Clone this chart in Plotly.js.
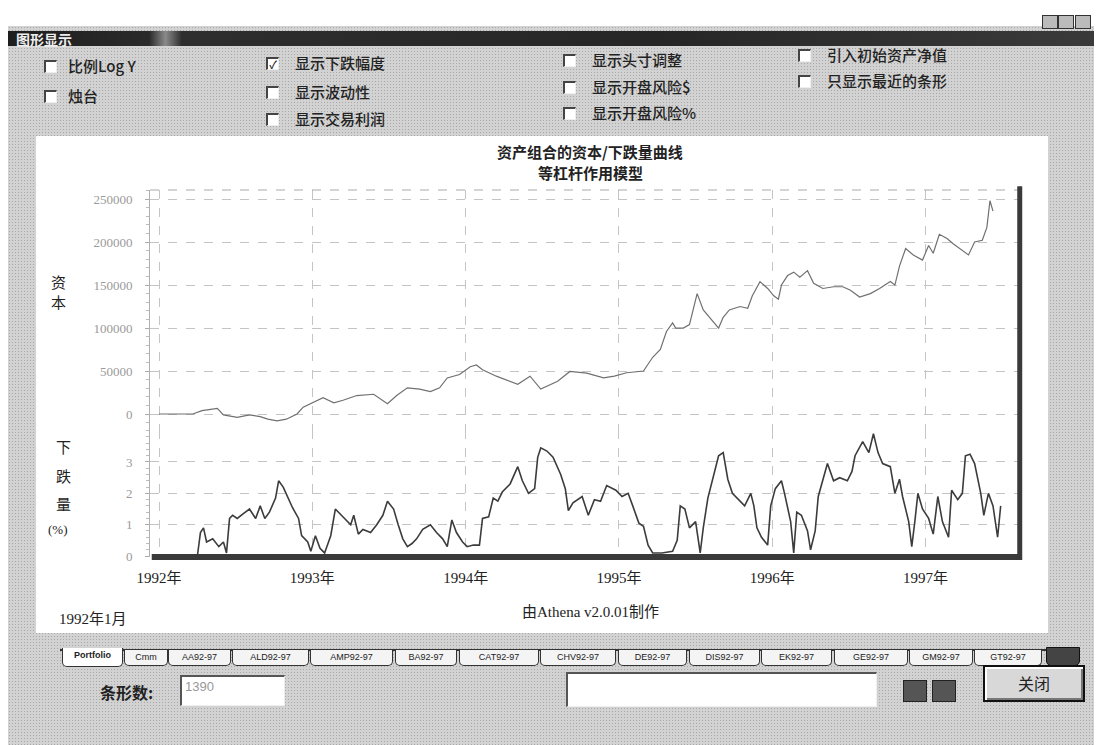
<!DOCTYPE html>
<html><head><meta charset="utf-8">
<script src="https://cdn.plot.ly/plotly-3.0.1.min.js"></script>
<style>
body{margin:0;width:1098px;height:745px;position:relative;background:#fff;overflow:hidden;font-family:"Liberation Serif","Noto Sans CJK SC",serif;color:#222;}
#win{position:absolute;left:8px;top:26px;width:1086px;height:719px;background-color:#d2d2d2;background-image:radial-gradient(#a8a8a8 0.6px,transparent 0.9px);background-size:3px 3px;}
#titlebar{position:absolute;left:8px;top:31px;width:1086px;height:15px;background:linear-gradient(90deg,#1e1e1e 0%,#2a2a2a 13%,#8a8a8a 14.5%,#2e2e2e 16%,#262626 60%,#3a3a3a 100%);}
#titlebar span{position:absolute;left:8px;top:-2px;color:#eee;font:bold 14px "Noto Sans CJK SC",sans-serif;}
.wbtn{position:absolute;top:15px;width:14px;height:12px;background:#bbb;border:1px solid #333;}
.cb{position:absolute;font:500 15px "Noto Sans CJK SC",sans-serif;color:#222;white-space:nowrap;line-height:18px;}
.cb i{position:absolute;left:0;top:3px;width:10px;height:10px;background:#fff;border-top:2px solid #444;border-left:2px solid #444;border-bottom:1px solid #eee;border-right:1px solid #eee;font-style:normal;font-size:11px;line-height:10px;text-align:center;color:#111;}
.cb b{position:absolute;top:0;font-weight:500;}
#panel{position:absolute;left:36px;top:136px;width:1012px;height:497px;background:#fff;}
#plot{position:absolute;left:36px;top:136px;width:1012px;height:497px;}
#tabs{position:absolute;left:60px;top:649px;width:990px;height:18px;border-top:2px solid #333;}
.tab{position:absolute;top:650px;height:15px;background:#f4f4f4;border:1px solid #333;border-top:none;border-radius:0 0 5px 5px;font:9px "Liberation Sans",sans-serif;text-align:center;line-height:15px;color:#222;overflow:hidden;white-space:nowrap;}
.sunk{position:absolute;background:#fff;border-top:2px solid #555;border-left:2px solid #555;border-bottom:1px solid #eee;border-right:1px solid #eee;}
.lbl{position:absolute;font:bold 16px "Noto Sans CJK SC",sans-serif;color:#222;}
.icon{position:absolute;top:680px;width:22px;height:20px;background:#555;border:1px solid #222;}
#close{position:absolute;left:983px;top:665px;width:98px;height:33px;background:#d8d8d8;border:2px solid #111;box-shadow:inset 2px 2px 0 #fff,inset -2px -2px 0 #777;font:16px "Noto Sans CJK SC",sans-serif;text-align:center;line-height:33px;}
</style></head>
<body>
<div id="win"></div>
<div id="titlebar"><span>图形显示</span></div>
<div class="wbtn" style="left:1042px"></div><div class="wbtn" style="left:1058px"></div><div class="wbtn" style="left:1075px"></div>
<div id="cbs"></div>
<div id="panel"></div>
<div id="plot"></div>
<div id="tabs"></div>
<div id="tabrow"></div>
<div class="lbl" style="left:100px;top:680px;">条形数:</div>
<div class="sunk" style="left:180px;top:675px;width:102px;height:28px;"><span style="position:absolute;left:3px;top:2px;font:13px 'Liberation Sans',sans-serif;color:#999;">1390</span></div>
<div class="sunk" style="left:566px;top:672px;width:308px;height:32px;"></div>
<div class="icon" style="left:903px;"></div><div class="icon" style="left:932px;"></div>
<div id="close">关闭</div>
<script>
// ---- chart data ----
const eqYear = [1992.00,1992.12,1992.22,1992.28,1992.35,1992.38,1992.42,1992.51,1992.59,1992.66,1992.71,1992.77,1992.83,1992.90,1992.94,1993.00,1993.07,1993.14,1993.20,1993.29,1993.40,1993.49,1993.55,1993.62,1993.70,1993.77,1993.83,1993.88,1993.96,1994.03,1994.07,1994.11,1994.20,1994.34,1994.42,1994.49,1994.60,1994.68,1994.79,1994.90,1994.97,1995.05,1995.16,1995.22,1995.27,1995.31,1995.35,1995.37,1995.42,1995.46,1995.51,1995.55,1995.59,1995.65,1995.68,1995.72,1995.79,1995.84,1995.87,1995.92,1995.97,1996.01,1996.04,1996.06,1996.10,1996.14,1996.18,1996.23,1996.27,1996.33,1996.40,1996.46,1996.51,1996.57,1996.64,1996.70,1996.77,1996.80,1996.83,1996.87,1996.92,1996.98,1997.02,1997.05,1997.09,1997.14,1997.18,1997.23,1997.28,1997.32,1997.37,1997.40,1997.41,1997.42,1997.44];
const equity = [0,0,0,4000,5500,6500,-1000,-4000,-1000,-3000,-6000,-8000,-6000,0,8000,13500,19000,13000,16000,21500,23000,12000,21500,30500,29000,26000,30500,42000,46000,55000,57000,51500,44000,34500,44000,29000,38000,49500,47500,42000,44000,48000,50000,66000,75000,96000,106000,100000,100000,104000,140000,121000,112500,100000,112500,121000,125000,123000,137500,154000,146000,137500,133500,150000,161000,165000,159000,166700,152000,146000,148000,148000,144000,136000,140000,146000,154000,150000,172000,192500,185000,179000,196000,187000,209000,204000,198000,191000,185000,200000,202000,217000,236000,248000,236000];
const ddYear = [1992.01,1992.25,1992.27,1992.29,1992.31,1992.35,1992.39,1992.42,1992.44,1992.46,1992.48,1992.51,1992.55,1992.59,1992.63,1992.66,1992.69,1992.72,1992.76,1992.78,1992.81,1992.84,1992.87,1992.91,1992.93,1992.97,1992.99,1993.02,1993.05,1993.08,1993.12,1993.15,1993.18,1993.21,1993.25,1993.27,1993.30,1993.33,1993.38,1993.42,1993.46,1993.49,1993.53,1993.56,1993.59,1993.62,1993.65,1993.68,1993.72,1993.77,1993.81,1993.85,1993.88,1993.91,1993.94,1993.98,1994.01,1994.05,1994.09,1994.11,1994.15,1994.18,1994.21,1994.24,1994.29,1994.34,1994.37,1994.41,1994.45,1994.47,1994.49,1994.53,1994.57,1994.62,1994.65,1994.67,1994.70,1994.76,1994.80,1994.84,1994.88,1994.92,1994.98,1995.02,1995.06,1995.09,1995.13,1995.16,1995.19,1995.22,1995.28,1995.35,1995.38,1995.40,1995.43,1995.46,1995.50,1995.53,1995.55,1995.58,1995.61,1995.65,1995.68,1995.71,1995.74,1995.78,1995.82,1995.86,1995.88,1995.90,1995.93,1995.97,1995.99,1996.02,1996.06,1996.08,1996.12,1996.14,1996.16,1996.19,1996.23,1996.25,1996.28,1996.30,1996.33,1996.36,1996.40,1996.44,1996.49,1996.52,1996.54,1996.59,1996.63,1996.66,1996.69,1996.72,1996.77,1996.80,1996.83,1996.85,1996.89,1996.91,1996.93,1996.95,1996.98,1997.02,1997.05,1997.08,1997.11,1997.15,1997.17,1997.21,1997.24,1997.26,1997.29,1997.32,1997.36,1997.38,1997.41,1997.44,1997.47,1997.49];
const drawdown = [0,0,0.75,0.9,0.45,0.55,0.3,0.45,0.1,1.2,1.3,1.2,1.35,1.5,1.2,1.6,1.2,1.4,1.85,2.4,2.2,1.85,1.55,1.2,0.65,0.45,0.15,0.65,0.25,0.1,0.65,1.5,1.35,1.2,1.0,1.3,0.7,0.85,0.75,1.0,1.3,1.75,1.5,1.0,0.55,0.3,0.4,0.55,0.85,1.0,0.75,0.55,0.3,1.15,0.75,0.45,0.3,0.35,0.35,1.2,1.25,1.85,1.75,2.05,2.3,2.85,2.4,2.0,2.15,3.15,3.45,3.35,3.15,2.6,2.15,1.45,1.7,1.9,1.3,1.8,1.75,2.25,2.1,1.9,2.0,1.6,1.05,0.95,0.35,0.1,0.1,0.15,0.5,1.6,1.5,0.9,1.1,0.1,0.9,1.85,2.45,3.2,3.3,2.45,2.0,1.8,1.6,2.0,1.6,0.9,0.6,0.35,1.6,2.15,2.4,2.0,1.1,0.1,1.4,1.3,0.8,0.2,0.8,1.9,2.4,2.95,2.4,2.5,2.4,2.7,3.2,3.65,3.3,3.9,3.3,2.95,2.85,2.0,2.45,1.9,1.1,0.3,1.1,2.0,1.5,1.2,0.7,1.9,1.1,0.6,2.1,1.8,2.0,3.2,3.25,2.95,2.0,1.3,2.0,1.6,0.6,1.6];
const yearTicks = [1992,1993,1994,1995,1996,1997];
const yearLabels = ['1992年','1993年','1994年','1995年','1996年','1997年'];
const capTicks = [0,50000,100000,150000,200000,250000];
const ddTicks = [0,1,2,3];

// ---- window controls ----
const checks = [
  [44,66,'比例Log Y',false],[44,96,'烛台',false],
  [266,63,'显示下跌幅度',true],[266,92,'显示波动性',false],[266,119,'显示交易利润',false],
  [563,60,'显示头寸调整',false],[563,87,'显示开盘风险$',false],[563,113,'显示开盘风险%',false],
  [798,55,'引入初始资产净值',false],[798,81,'只显示最近的条形',false]
];
const cbs = document.getElementById('cbs');
checks.forEach(c=>{
  const d=document.createElement('div');d.className='cb';
  d.style.left=c[0]+'px';d.style.top=(c[1]-9)+'px';
  d.innerHTML='<i>'+(c[3]?'✓':'')+'</i><b style="left:'+(c[0]<100?24:29)+'px">'+c[2]+'</b>';
  cbs.appendChild(d);
});
const tabs = [['Portfolio',62,121],['Cmm',124,166],['AA92-97',168,229],['ALD92-97',232,307],['AMP92-97',310,391],['BA92-97',395,455],['CAT92-97',459,537],['CHV92-97',540,614],['DE92-97',618,685],['DIS92-97',689,758],['EK92-97',761,830],['GE92-97',834,906],['GM92-97',909,971],['GT92-97',974,1040]];
const tr=document.getElementById('tabrow');
tabs.forEach((t,i)=>{
  const d=document.createElement('div');d.className='tab';
  d.style.left=t[1]+'px';d.style.width=(t[2]-t[1])+'px';d.textContent=t[0];
  if(i===0){d.style.background='#fff';d.style.top='648px';d.style.height='18px';d.style.fontWeight='bold';}
  tr.appendChild(d);
});
const sb=document.createElement('div');sb.className='tab';sb.style.left='1046px';sb.style.width='32px';sb.style.background='#444';sb.style.top='647px';sb.style.height='17px';sb.style.border='1px solid #111';tr.appendChild(sb);

// ---- chart ----
const gridC='#c4c4c4', tickFont={family:'Liberation Serif, Noto Sans CJK SC, serif',size:13,color:'#9a9a9a'};
const traces=[
  {x:eqYear,y:equity,type:'scatter',mode:'lines',line:{color:'#707070',width:1.2},xaxis:'x',yaxis:'y',hoverinfo:'skip'},
  {x:ddYear,y:drawdown,type:'scatter',mode:'lines',line:{color:'#3c3c3c',width:1.6},xaxis:'x',yaxis:'y2',hoverinfo:'skip'}
];
const cjk='Noto Sans CJK SC, sans-serif';
function ann(text,x,y,size,extra){return Object.assign({text:text,x:x,y:y,xref:'paper',yref:'paper',xanchor:'center',yanchor:'middle',showarrow:false,font:{family:cjk,size:size,color:'#222'}},extra||{});}
const layout={
  width:1012,height:497,margin:{l:114,r:30,t:54,b:76},
  paper_bgcolor:'#ffffff',plot_bgcolor:'#ffffff',showlegend:false,
  xaxis:{range:[1991.941,1997.603],anchor:'y2',tickvals:yearTicks,ticktext:yearLabels,showgrid:true,gridcolor:gridC,griddash:'dash',zeroline:false,showline:false,ticks:'',ticklabelstandoff:10,tickfont:{family:'Liberation Serif, Noto Sans CJK SC, serif',size:15,color:'#222'}},
  yaxis:{domain:[0.346,1],range:[-18600,260500],tickvals:capTicks,ticktext:capTicks.map(String),showgrid:true,gridcolor:gridC,griddash:'dash',zeroline:false,showline:true,linecolor:'#b0b0b0',linewidth:1,ticks:'outside',ticklen:4,tickcolor:'#aaa',minor:{dtick:10000,ticklen:3,tickcolor:'#bbb',ticks:'outside',showgrid:false},ticklabelstandoff:10,tickfont:tickFont},
  yaxis2:{domain:[0,0.346],range:[-0.03,4.02],tickvals:ddTicks,ticktext:ddTicks.map(String),showgrid:true,gridcolor:gridC,griddash:'dash',zeroline:false,showline:true,linecolor:'#b0b0b0',linewidth:1,ticks:'outside',ticklen:4,tickcolor:'#aaa',minor:{dtick:0.2,ticklen:3,tickcolor:'#bbb',ticks:'outside',showgrid:false},ticklabelstandoff:10,tickfont:tickFont},
  shapes:[
    {type:'line',xref:'paper',yref:'paper',x0:0,x1:1,y0:1,y1:1,line:{color:'#aaa',width:1,dash:'dash'}},
    {type:'line',xref:'paper',yref:'paper',x0:0.002,x1:1.004,y0:0,y1:0,line:{color:'#3a3a3a',width:6}},
    {type:'line',xref:'paper',yref:'paper',x0:1.002,x1:1.002,y0:-0.008,y1:1.01,line:{color:'#3a3a3a',width:5}}
  ],
  annotations:[
    ann('资产组合的资本/下跌量曲线',0.507,1.106,15,{font:{family:cjk,size:15,color:'#222',weight:600}}),
    ann('等杠杆作用模型',0.507,1.049,15,{font:{family:cjk,size:15,color:'#222',weight:600}}),
    ann('资<br>本',-0.105,0.724,15),
    ann('下',-0.100,0.300,15),ann('跌',-0.100,0.221,15),ann('量',-0.100,0.147,15),
    ann('(%)',-0.106,0.074,13,{font:{family:'Liberation Serif, serif',size:13,color:'#222'}}),
    ann('由Athena v2.0.01制作',0.507,-0.150,15,{font:{family:'Liberation Serif, Noto Sans CJK SC, serif',size:15,color:'#222'}}),
    ann('1992年1月',-0.107,-0.170,15,{xanchor:'left',font:{family:'Liberation Serif, Noto Sans CJK SC, serif',size:15,color:'#222'}})
  ]
};
Plotly.newPlot('plot',traces,layout,{staticPlot:true,displayModeBar:false});
</script>
</body></html>
